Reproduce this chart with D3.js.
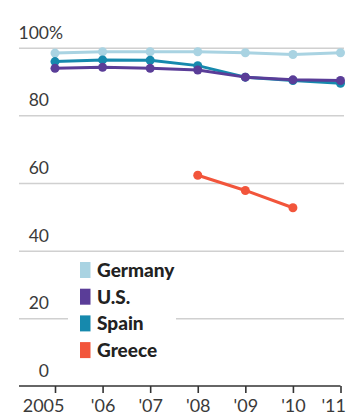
<!DOCTYPE html>
<html><head><meta charset="utf-8">
<script src="https://cdn.jsdelivr.net/npm/d3@7"></script>
<style>
html,body{margin:0;padding:0;background:#fff;}
svg{display:block;}
</style>
</head><body>
<svg id="c" width="354" height="417"></svg>
<script>
const years = [2005, 2006, 2007, 2008, 2009, 2010, 2011];
const xTickLabels = ["2005", "'06", "'07", "'08", "'09", "'10", "'11"];
const yTicks = [0, 20, 40, 60, 80, 100];
const germany = [98.4, 98.8, 98.8, 98.8, 98.5, 98.0, 98.5];
const us = [93.9, 94.2, 93.9, 93.4, 91.3, 90.5, 90.3];
const spain = [95.9, 96.4, 96.3, 94.7, 91.3, 90.3, 89.5];
const greeceYears = [2008, 2009, 2010];
const greece = [62.3, 57.8, 52.7];
const seriesNames = ["Germany", "U.S.", "Spain", "Greece"];
const seriesColors = ["#a9d3e2", "#5a3d98", "#1689ad", "#f2553b"];

const svg = d3.select("#c");
const x = d3.scaleLinear().domain([2005, 2011]).range([55, 340.5]);
const y = d3.scaleLinear().domain([0, 100]).range([386, 47.7]);

// gridlines
const yAxis = d3.axisLeft(y).tickValues(yTicks.filter(d => d > 0)).tickSize(-325).tickFormat("");
const gy = svg.append("g").attr("transform", "translate(19,0)").call(yAxis);
gy.select(".domain").remove();
gy.selectAll("line").attr("stroke", "#d0d0d0").attr("stroke-width", 1.5);

// y labels
const labelFont = "Lato, 'Open Sans', sans-serif";
svg.append("g").selectAll("text").data(yTicks).join("text")
  .attr("x", 49).attr("y", d => y(d) - 9)
  .attr("text-anchor", "end")
  .attr("font-family", labelFont).attr("font-size", 17.5).attr("fill", "#3a3a3a")
  .text(d => d);
svg.append("text").attr("x", 49).attr("y", y(100) - 9)
  .attr("font-family", labelFont).attr("font-size", 17.5).attr("fill", "#3a3a3a")
  .text("%");

// x axis
const xAxis = d3.axisBottom(x).tickValues(years).tickSize(7).tickFormat((d, i) => xTickLabels[i]).tickPadding(5);
const gx = svg.append("g").attr("transform", `translate(0,${y(0)})`).call(xAxis);
gx.select(".domain").attr("d", `M19,0H${x(2011)}`).attr("stroke", "#333").attr("stroke-width", 1.6);
gx.selectAll(".tick line").attr("stroke", "#333").attr("stroke-width", 1.6);
gx.selectAll(".tick text").attr("font-family", labelFont).attr("font-size", 18).attr("fill", "#3a3a3a")
  .attr("dy", "0.75em");
gx.selectAll(".tick text").filter((d, i) => i === 0).attr("text-anchor", "end").attr("dx", 9);
gx.selectAll(".tick text").filter((d, i) => i === years.length - 1).attr("text-anchor", "end").attr("dx", 5);

// lines
const line = d3.line().x(d => x(d[0])).y(d => y(d[1]));
const series = [
  {name: "Germany", pts: years.map((yr, i) => [yr, germany[i]]), color: seriesColors[0]},
  {name: "Spain", pts: years.map((yr, i) => [yr, spain[i]]), color: seriesColors[2]},
  {name: "U.S.", pts: years.map((yr, i) => [yr, us[i]]), color: seriesColors[1]},
  {name: "Greece", pts: greeceYears.map((yr, i) => [yr, greece[i]]), color: seriesColors[3]}
];
series.forEach(s => {
  svg.append("path").datum(s.pts).attr("d", line).attr("fill", "none")
    .attr("stroke", s.color).attr("stroke-width", 3).attr("stroke-linejoin", "round");
  svg.append("g").selectAll("circle").data(s.pts).join("circle")
    .attr("cx", d => x(d[0])).attr("cy", d => y(d[1])).attr("r", 4.5).attr("fill", s.color);
});

// legend
const lg = svg.append("g");
lg.append("rect").attr("x", 68).attr("y", 258).attr("width", 108).attr("height", 102).attr("fill", "#fff");
const rows = lg.selectAll("g.row").data(seriesNames).join("g").attr("class", "row")
  .attr("transform", (d, i) => `translate(80,${270 + i * 26.7})`);
rows.append("rect").attr("x", 0).attr("y", -8).attr("width", 10.5).attr("height", 16)
  .attr("fill", (d, i) => seriesColors[i]);
rows.append("text").attr("x", 17).attr("y", 6.8)
  .attr("font-family", labelFont).attr("font-weight", 900).attr("font-size", 19).attr("fill", "#222")
  .text(d => d);
</script>
</body></html>
